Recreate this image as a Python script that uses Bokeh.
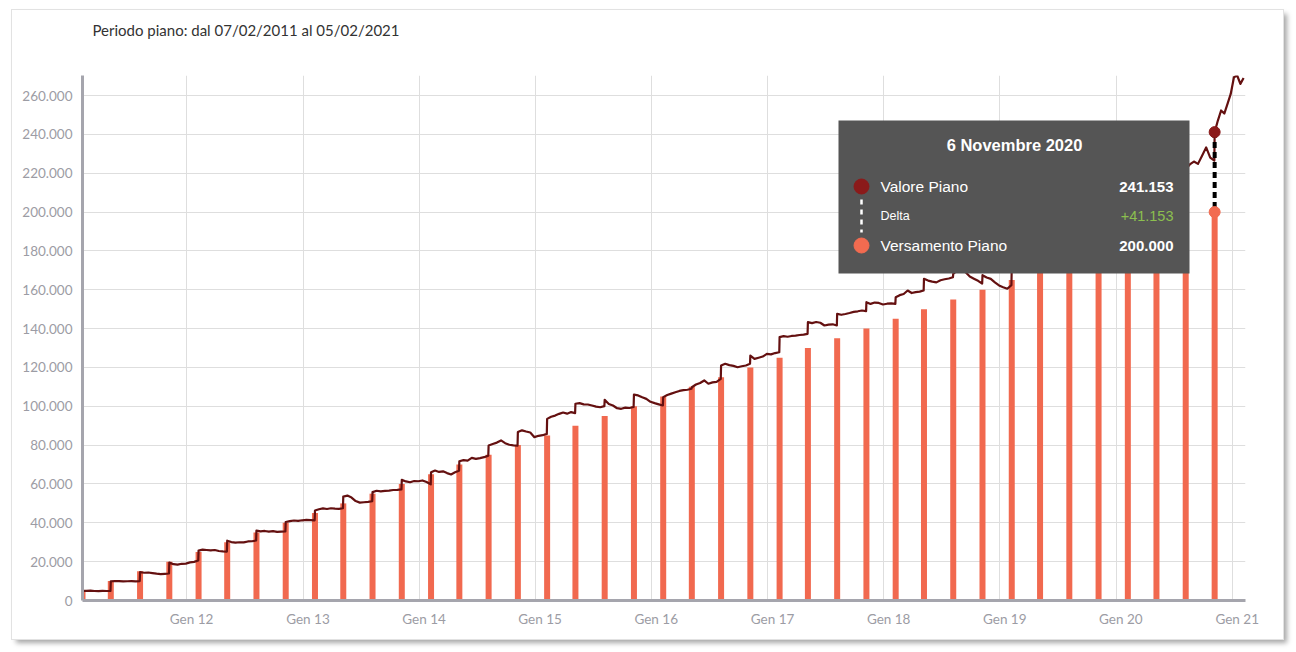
import pandas as pd
from bokeh.plotting import figure
from bokeh.models import ColumnDataSource, FixedTicker, Label, BoxAnnotation, Range1d, Title
from bokeh.embed import file_html
from bokeh.resources import INLINE

# ---------------- data ----------------
title_text = "Periodo piano: dal 07/02/2011 al 05/02/2021"
plan_start = "2011-02-07"
plan_end = "2021-02-05"

contrib_dates = [
    "2011-02-07", "2011-05-07", "2011-08-07", "2011-11-07",
    "2012-02-07", "2012-05-07", "2012-08-07", "2012-11-07",
    "2013-02-07", "2013-05-07", "2013-08-07", "2013-11-07",
    "2014-02-07", "2014-05-07", "2014-08-07", "2014-11-07",
    "2015-02-07", "2015-05-07", "2015-08-07", "2015-11-07",
    "2016-02-07", "2016-05-07", "2016-08-07", "2016-11-07",
    "2017-02-07", "2017-05-07", "2017-08-07", "2017-11-07",
    "2018-02-07", "2018-05-07", "2018-08-07", "2018-11-07",
    "2019-02-07", "2019-05-07", "2019-08-07", "2019-11-07",
    "2020-02-07", "2020-05-07", "2020-08-07", "2020-11-06",
]
contrib_totals = [
    5000, 10000, 15000, 20000, 25000, 30000, 35000, 40000,
    45000, 50000, 55000, 60000, 65000, 70000, 75000, 80000,
    85000, 90000, 95000, 100000, 105000, 110000, 115000, 120000,
    125000, 130000, 135000, 140000, 145000, 150000, 155000, 160000,
    165000, 170000, 175000, 180000, 185000, 190000, 195000, 200000,
]
# plan value readings within each quarter (from one contribution to the next)
value_quarters = [
    [5000, 4950, 5050, 4900, 4850, 4950, 4900, 4950],
    [9900, 10050, 9950, 9800, 9900, 10000, 9850, 10000],
    [14600, 14300, 14400, 14100, 13800, 13600, 13750, 13900],
    [19500, 18700, 18500, 18900, 19000, 19600, 19900, 20600],
    [25700, 26200, 26000, 25800, 26000, 25500, 25300, 25200],
    [30800, 30100, 29800, 30000, 29900, 30400, 30500, 30900],
    [36000, 35600, 35800, 35500, 35700, 35300, 35500, 35600],
    [40400, 40900, 41200, 41000, 41300, 41500, 41400, 41300],
    [46300, 47000, 47400, 47100, 47500, 47300, 47200, 47500],
    [53500, 54000, 53000, 51200, 50400, 50600, 50800, 51100],
    [55800, 56500, 56200, 56400, 56600, 56900, 57000, 57200],
    [62100, 61300, 60900, 61500, 61400, 61800, 61000, 59800],
    [66000, 66900, 66200, 66500, 65600, 64900, 66000, 66800],
    [71700, 72300, 72000, 73400, 72900, 73300, 73800, 74600],
    [79800, 80600, 81300, 82400, 81000, 80200, 79900, 79700],
    [86700, 87600, 87000, 86500, 84100, 84800, 85100, 85800],
    [93500, 94600, 95200, 96100, 96800, 96200, 97000, 96500],
    [101300, 101600, 101000, 100900, 100400, 99800, 99500, 100100],
    [103300, 101200, 100400, 99000, 98700, 99300, 99100, 99600],
    [106000, 105600, 104600, 103800, 102300, 101600, 101000, 100400],
    [104700, 105800, 106500, 107200, 107900, 108300, 108500, 109000],
    [109800, 111200, 112000, 113300, 111600, 112300, 112600, 114100],
    [121000, 121900, 121200, 120800, 120100, 120600, 121000, 121900],
    [126100, 124400, 125000, 125600, 127000, 126700, 127400, 127800],
    [135600, 136100, 135800, 136200, 136400, 136700, 136900, 137300],
    [143300, 142800, 143400, 143000, 141600, 142000, 142200, 141600],
    [147600, 147100, 147500, 148000, 148600, 148900, 149300, 149000],
    [153600, 152700, 153400, 153200, 152400, 152800, 153000, 152700],
    [156100, 157200, 157800, 159600, 158300, 158800, 159000, 159600],
    [165600, 164700, 164200, 163800, 164900, 165400, 165800, 166400],
    [168200, 170100, 169500, 169000, 166800, 165700, 164600, 163200],
    [167500, 166300, 165600, 163800, 162200, 161300, 160500, 162400],
    [172000, 173600, 174800, 176900, 178200, 177100, 178600, 179800],
    [185000, 183400, 181900, 184000, 186200, 188400, 187200, 187800],
    [192000, 190100, 190900, 191800, 193400, 194300, 195200, 197000],
    [202000, 203900, 204700, 205600, 207200, 208000, 208800, 210400],
    [215600, 216800, 213200, 182000, 186400, 189000, 191200, 196300],
    [203000, 204800, 206200, 209400, 208600, 211300, 212800, 214200],
    [222000, 224500, 226000, 224800, 229000, 233300, 228000, 226500],
    [241153, 247100, 252300, 250700, 255700, 260800, 269400, 270300, 266000, 269000],
]

x_tick_years = [2012, 2013, 2014, 2015, 2016, 2017, 2018, 2019, 2020, 2021]
x_tick_labels = ["Gen 12", "Gen 13", "Gen 14", "Gen 15", "Gen 16",
                 "Gen 17", "Gen 18", "Gen 19", "Gen 20", "Gen 21"]
y_ticks = [0, 20000, 40000, 60000, 80000, 100000, 120000, 140000,
           160000, 180000, 200000, 220000, 240000, 260000]
y_tick_labels = ["0", "20.000", "40.000", "60.000", "80.000", "100.000", "120.000",
                 "140.000", "160.000", "180.000", "200.000", "220.000", "240.000", "260.000"]

tip_date = "2020-11-06"
tip_title = "6 Novembre 2020"
tip_value = 241153
tip_paid = 200000
tip_value_text = "241.153"
tip_delta_text = "+41.153"
tip_paid_text = "200.000"

# ---------------- helpers ----------------
def ms(s):
    return int(pd.Timestamp(s).value // 10**6)

DAY = 86400000
X0 = ms(plan_start)
X1 = ms("2021-02-11")
Y0, Y1 = 0, 270300

# page geometry of the plot frame (for annotation placement)
FL, FR, FT, FB = 82, 1245, 75, 600
def dx(px):
    return X0 + (px - FL) / (FR - FL) * (X1 - X0)
def dy(py):
    return Y0 + (FB - py) / (FB - FT) * (Y1 - Y0)

# line points
lx, ly = [], []
for i, vals in enumerate(value_quarters):
    start = ms(contrib_dates[i])
    end = (ms(contrib_dates[i + 1]) - DAY) if i + 1 < len(contrib_dates) else ms(plan_end)
    n = len(vals)
    for k, v in enumerate(vals):
        lx.append(start + k * (end - start) / (n - 1))
        ly.append(v)

bar_src = ColumnDataSource(dict(x=[ms(d) for d in contrib_dates], top=contrib_totals))
line_src = ColumnDataSource(dict(x=lx, y=ly))

# ---------------- figure ----------------
p = figure(
    width=1271, height=629, margin=(10, 0, 0, 12),
    x_axis_type="datetime", title=None,
    x_range=Range1d(X0, X1), y_range=Range1d(Y0, Y1),
    output_backend="svg", toolbar_location=None,
    min_border_left=70, min_border_right=38, min_border_top=65, min_border_bottom=39,
    background_fill_color="white", border_fill_color="white",
    outline_line_color=None,
    styles={"box-shadow": "4px 4px 5px rgba(0,0,0,0.35)", "outline": "1px solid #e2e2e2"},
)

# spacer (nearest the frame) then the visible title above it
p.add_layout(Title(text=" ", text_font_size="1px", standoff=22), "above")
p.add_layout(Title(text=title_text, align="left", offset=10, standoff=20, vertical_align="top",
                   text_font="Lato", text_font_size="15px", text_color="#333333",
                   text_font_style="normal"), "above")

BAR_COLOR = "#f1694f"
LINE_COLOR = "#641010"
AXIS_COLOR = "#a5a5ad"
LABEL_COLOR = "#9c9ca4"
GRID_COLOR = "#dedede"

bar_w = 6 / (FR - FL) * (X1 - X0)
p.vbar(x="x", top="top", width=bar_w, source=bar_src, fill_color=BAR_COLOR, line_color=None)
p.line(x="x", y="y", source=line_src, line_color=LINE_COLOR, line_width=2.2, line_join="round")

# highlighted point
p.segment(x0=[ms(tip_date)], y0=[tip_value], x1=[ms(tip_date)], y1=[tip_paid],
          line_color="black", line_width=4, line_dash="6 4")
p.scatter(x=[ms(tip_date)], y=[tip_value], size=11, fill_color="#8b1a1a", line_color="#8b1a1a")
p.scatter(x=[ms(tip_date)], y=[tip_paid], size=11, fill_color="#f26b50", line_color="#f26b50")

# axes
grid_ticks = [ms(f"{y}-01-01") for y in x_tick_years]
label_ticks = [ms(f"{y}-01-16") for y in x_tick_years]
p.xgrid.ticker = FixedTicker(ticks=grid_ticks)
p.xaxis.ticker = FixedTicker(ticks=label_ticks)
p.xaxis.major_label_overrides = {t: l for t, l in zip(label_ticks, x_tick_labels)}
p.yaxis.ticker = FixedTicker(ticks=y_ticks)
p.ygrid.ticker = FixedTicker(ticks=y_ticks)
p.yaxis.major_label_overrides = {t: l for t, l in zip(y_ticks, y_tick_labels)}

for ax in (p.xaxis, p.yaxis):
    ax.axis_line_color = AXIS_COLOR
    ax.axis_line_width = 3
    ax.major_tick_line_color = None
    ax.minor_tick_line_color = None
    ax.major_tick_out = 0
    ax.major_tick_in = 0
    ax.major_label_text_color = LABEL_COLOR
    ax.major_label_text_font = "Lato"
    ax.major_label_text_font_size = "13.5px"
    ax.major_label_standoff = 10

p.xgrid.grid_line_color = GRID_COLOR
p.ygrid.grid_line_color = GRID_COLOR

# tooltip box
p.add_layout(BoxAnnotation(left=dx(838), right=dx(1189), top=dy(120), bottom=dy(273),
                           fill_color="#555555", fill_alpha=1.0, line_color=None))

TF = "Liberation Sans"
def tlabel(px, py, text, size, color="white", align="left", style="normal"):
    lab = Label(x=dx(px), y=dy(py), text=text, text_font=TF, text_font_size=size,
                text_color=color, text_align=align, text_baseline="middle",
                text_font_style=style, level="overlay")
    p.add_layout(lab)

tlabel(1014, 144, tip_title, "16.5px", align="center", style="bold")
tlabel(880, 186, "Valore Piano", "15.5px")
tlabel(1173, 186, tip_value_text, "15px", align="right", style="bold")
tlabel(880, 215, "Delta", "12.5px")
tlabel(1173, 215, tip_delta_text, "14.5px", color="#8cbf4f", align="right")
tlabel(880, 245, "Versamento Piano", "15.5px")
tlabel(1173, 245, tip_paid_text, "15px", align="right", style="bold")

r = p.segment(x0=[dx(861)], y0=[dy(199)], x1=[dx(861)], y1=[dy(232)],
              line_color="white", line_width=2.5, line_dash="5 5")
r.level = "overlay"
r = p.scatter(x=[dx(861)], y=[dy(186)], size=15, fill_color="#8b1a1a", line_color="#8b1a1a")
r.level = "overlay"
r = p.scatter(x=[dx(861)], y=[dy(245)], size=15, fill_color="#f26b50", line_color="#f26b50")
r.level = "overlay"

open("out.html", "w").write(file_html(p, INLINE))
